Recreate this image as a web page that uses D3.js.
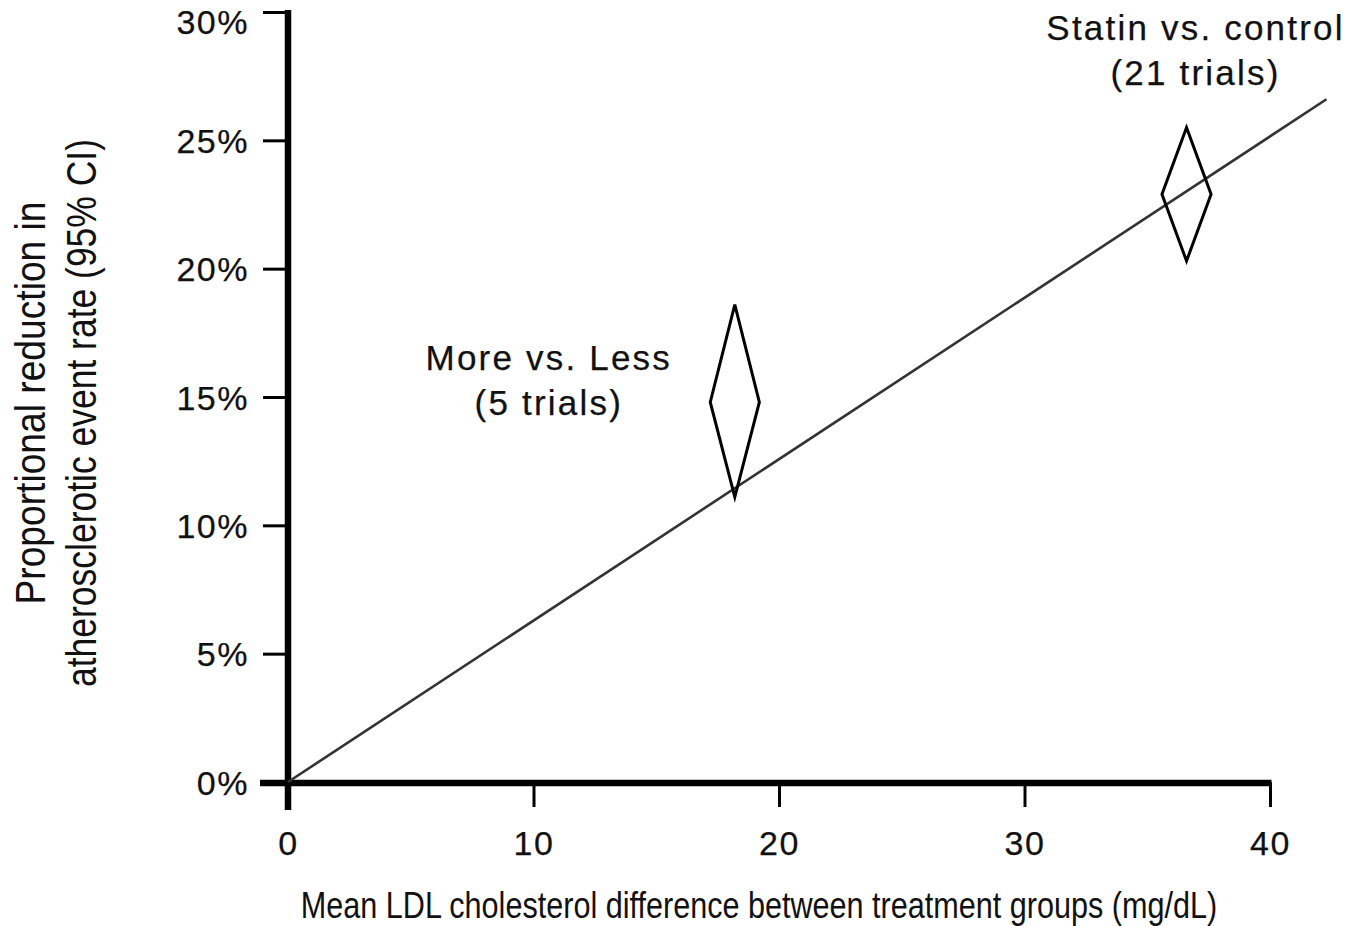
<!DOCTYPE html>
<html>
<head>
<meta charset="utf-8">
<script src="https://cdn.jsdelivr.net/npm/d3@7"></script>
<style>
  html, body { margin: 0; padding: 0; background: #fff; }
  svg { display: block; }
</style>
</head>
<body>
<svg id="chart" width="1351" height="926"></svg>
<script>
// ---- data ----
const xTicks = [0, 10, 20, 30, 40];
const yTicks = [0, 5, 10, 15, 20, 25, 30];
const groupNames = ["More vs. Less", "Statin vs. control"];
const groupTrials = ["(5 trials)", "(21 trials)"];
const ldlDifference = [18.2, 36.6];        // mg/dL
const reductionEstimate = [14.8, 22.9];    // %
const reductionLow = [11.1, 20.3];         // % (95% CI)
const reductionHigh = [18.6, 25.5];        // % (95% CI)
const fitLineX = [0, 42.3];
const fitLineY = [0, 26.6];
const xTitle = "Mean LDL cholesterol difference between treatment groups (mg/dL)";
const yTitleLines = ["Proportional reduction in", "atherosclerotic event rate (95% CI)"];

// ---- layout ----
const svg = d3.select("#chart");
const x = d3.scaleLinear().domain([0, 40]).range([288, 1270]);
const y = d3.scaleLinear().domain([0, 30]).range([782, 12]);
const font = "'Liberation Sans', Arial, Helvetica, sans-serif";

function styleLabel(sel, size, spacing) {
  sel.attr("fill", "#111")
    .attr("stroke", "#111")
    .attr("stroke-width", 0.25)
    .style("font-family", font)
    .style("font-size", size + "px")
    .style("letter-spacing", spacing + "px");
}

// y axis
const yAxis = d3.axisLeft(y).tickValues(yTicks).tickSize(25).tickPadding(14)
  .tickFormat(d => d + "%");
const gy = svg.append("g").attr("transform", `translate(${x(0)},0)`).call(yAxis);
gy.select(".domain").remove();
gy.selectAll(".tick line").attr("stroke", "#000").attr("stroke-width", 3);
styleLabel(gy.selectAll(".tick text"), 34, 1.5);
gy.selectAll(".tick text").attr("dy", d => d === 30 ? "0.62em" : "0.36em");

// x axis
const xAxis = d3.axisBottom(x).tickValues(xTicks).tickSize(25).tickPadding(24)
  .tickFormat(d3.format("d"));
const gx = svg.append("g").attr("transform", `translate(0,${y(0)})`).call(xAxis);
gx.select(".domain").remove();
gx.selectAll(".tick line").attr("stroke", "#000").attr("stroke-width", 3);
styleLabel(gx.selectAll(".tick text"), 34, 1.5);

// thick axis lines
svg.append("line")
  .attr("x1", x(0)).attr("x2", x(0))
  .attr("y1", y(30) - 2).attr("y2", y(0) + 28)
  .attr("stroke", "#000").attr("stroke-width", 6.5);
svg.append("line")
  .attr("x1", x(0) - 28).attr("x2", x(40) + 1.5)
  .attr("y1", y(0) + 1).attr("y2", y(0) + 1)
  .attr("stroke", "#000").attr("stroke-width", 6.5);

// fit line
svg.append("line")
  .attr("x1", x(fitLineX[0])).attr("y1", y(fitLineY[0]))
  .attr("x2", x(fitLineX[1])).attr("y2", y(fitLineY[1]))
  .attr("stroke", "#333").attr("stroke-width", 2.6);

// diamonds
const halfW = 1.0;
const diamonds = ldlDifference.map((d, i) => ({
  x: d, est: reductionEstimate[i], lo: reductionLow[i], hi: reductionHigh[i]
}));
svg.selectAll("path.diamond").data(diamonds).enter().append("path")
  .attr("class", "diamond")
  .attr("d", d => `M${x(d.x)},${y(d.hi)} L${x(d.x + halfW)},${y(d.est)} L${x(d.x)},${y(d.lo)} L${x(d.x - halfW)},${y(d.est)} Z`)
  .attr("fill", "none")
  .attr("stroke", "#000")
  .attr("stroke-width", 3)
  .attr("stroke-linejoin", "miter");

// annotations
const annOffsets = [{dx: -186, dy: 65}, {dx: 9, dy: -88}];
diamonds.forEach((d, i) => {
  const cx = x(d.x) + annOffsets[i].dx;
  const by = y(d.hi) + annOffsets[i].dy;
  const t = svg.append("text").attr("text-anchor", "middle");
  styleLabel(t, 35, 2.2);
  t.append("tspan").attr("x", cx).attr("y", by).text(groupNames[i]);
  t.append("tspan").attr("x", cx).attr("y", by + 45).text(groupTrials[i]);
});

// axis titles (narrow: horizontally compressed sans)
svg.append("text")
  .attr("transform", "translate(759,918) scale(0.827,1)")
  .attr("text-anchor", "middle")
  .attr("fill", "#111")
  .style("font-family", font)
  .style("font-size", "37px")
  .text(xTitle);

const yTitleScale = [0.865, 0.825];
const yTitleCenter = [403, 413];
yTitleLines.forEach((line, i) => {
  svg.append("text")
    .attr("transform", `translate(${45 + i * 51},${yTitleCenter[i]}) rotate(-90) scale(${yTitleScale[i]},1)`)
    .attr("text-anchor", "middle")
    .attr("fill", "#111")
    .style("font-family", font)
    .style("font-size", "43px")
    .text(line);
});
</script>
</body>
</html>
